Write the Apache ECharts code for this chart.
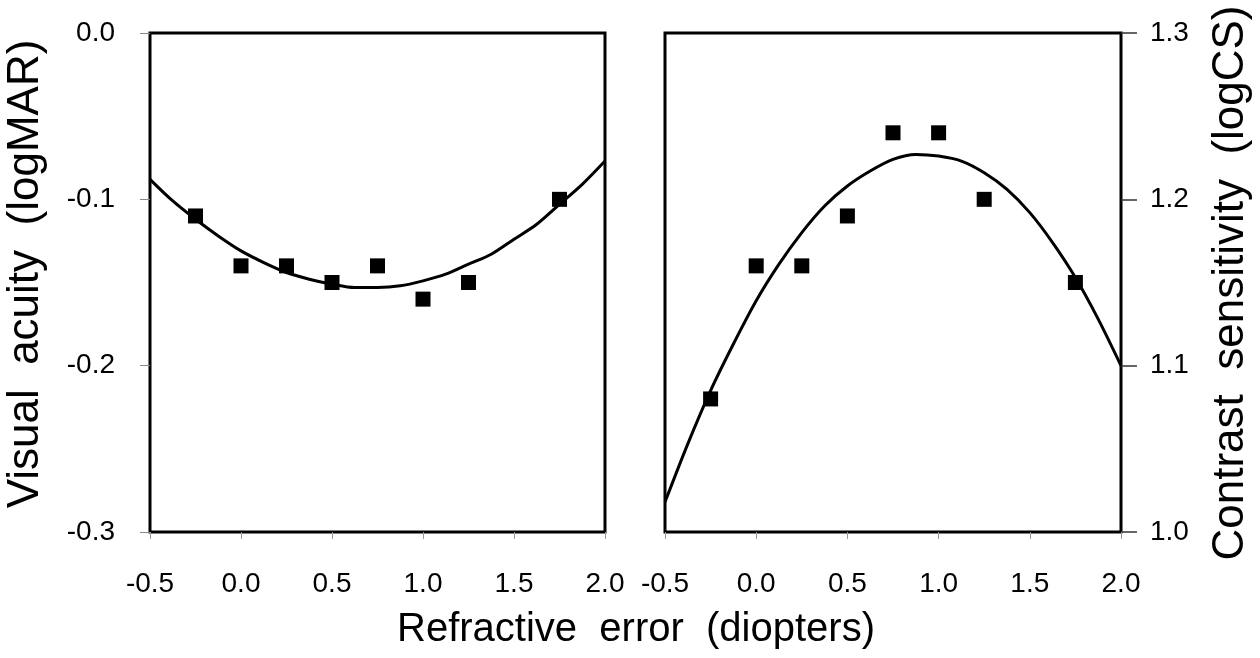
<!DOCTYPE html>
<html>
<head>
<meta charset="utf-8">
<script src="https://cdn.jsdelivr.net/npm/echarts@6/dist/echarts.min.js"></script>
<style>
  html, body { margin: 0; padding: 0; background: #fff; }
  #chart { width: 1260px; height: 658px; }
</style>
</head>
<body>
<div id="chart"></div>
<script>
// measured points (diopters)
const refErr = [-0.25, 0, 0.25, 0.5, 0.75, 1.0, 1.25, 1.75]
const acuity = [-0.11, -0.14, -0.14, -0.15, -0.14, -0.16, -0.15, -0.10]
const contrast = [1.08, 1.16, 1.16, 1.19, 1.24, 1.24, 1.20, 1.15]

// fitted curves, every 0.125 D
const fitX = [-0.5, -0.375, -0.25, -0.125, 0, 0.125, 0.25, 0.375, 0.5, 0.625, 0.75,
  0.875, 1.0, 1.125, 1.25, 1.375, 1.5, 1.625, 1.75, 1.875, 2.0]
const acuityFit = [-0.088, -0.101, -0.112, -0.122, -0.131, -0.138, -0.144, -0.148, -0.151, -0.153, -0.153,
  -0.152, -0.149, -0.145, -0.139, -0.133, -0.124, -0.115, -0.103, -0.091, -0.077]
const contrastFit = [1.018, 1.053, 1.085, 1.113, 1.139, 1.161, 1.180, 1.196, 1.208, 1.217, 1.224,
  1.227, 1.226, 1.223, 1.216, 1.206, 1.192, 1.174, 1.153, 1.128, 1.100]

const xTicks = [-0.5, 0, 0.5, 1.0, 1.5, 2.0]
const acuityTicks = [-0.3, -0.2, -0.1, 0.0]
const contrastTicks = [1.0, 1.1, 1.2, 1.3]

const font = "'Liberation Sans', Arial, sans-serif"
const fmt = v => (Math.abs(v) < 1e-9 ? 0 : v).toFixed(1)
const pairs = (xs, ys) => xs.map((x, i) => [x, ys[i]])

const xAxisBase = {
  type: 'value',
  min: xTicks[0],
  max: xTicks[xTicks.length - 1],
  interval: xTicks[1] - xTicks[0],
  axisLine: { show: false, onZero: false },
  axisTick: { show: true, length: 7, lineStyle: { color: '#999', width: 1 } },
  axisLabel: { color: '#000', fontSize: 28, fontFamily: font, margin: 38, formatter: fmt },
  splitLine: { show: false }
}

const option = {
  animation: false,
  grid: [
    { left: 150, top: 33, width: 455, height: 499, show: true, borderColor: '#000', borderWidth: 3 },
    { left: 665, top: 33, width: 456, height: 499, show: true, borderColor: '#000', borderWidth: 3 }
  ],
  xAxis: [
    Object.assign({ gridIndex: 0 }, xAxisBase),
    Object.assign({ gridIndex: 1 }, xAxisBase)
  ],
  yAxis: [
    {
      gridIndex: 0,
      type: 'value',
      min: acuityTicks[0],
      max: acuityTicks[acuityTicks.length - 1],
      interval: 0.1,
      axisLine: { show: false, onZero: false },
      axisTick: { show: true, length: 10, lineStyle: { color: '#888', width: 1 } },
      axisLabel: { color: '#000', fontSize: 28, fontFamily: font, margin: 35, formatter: fmt },
      splitLine: { show: false }
    },
    {
      gridIndex: 1,
      type: 'value',
      position: 'right',
      min: contrastTicks[0],
      max: contrastTicks[contrastTicks.length - 1],
      interval: 0.1,
      axisLine: { show: false, onZero: false },
      axisTick: { show: true, length: 16, lineStyle: { color: '#333', width: 1.5 } },
      axisLabel: { color: '#000', fontSize: 28, fontFamily: font, margin: 29, formatter: fmt },
      splitLine: { show: false }
    }
  ],
  graphic: [
    {
      type: 'text', x: 26, y: 274, rotation: Math.PI / 2,
      style: { text: 'Visual  acuity  (logMAR)', font: '44px ' + font, fill: '#000', align: 'center', verticalAlign: 'middle' }
    },
    {
      type: 'text', x: 1231, y: 283, rotation: Math.PI / 2,
      style: { text: 'Contrast  sensitivity  (logCS)', font: '44px ' + font, fill: '#000', align: 'center', verticalAlign: 'middle' }
    },
    {
      type: 'text', x: 636, y: 630,
      style: { text: 'Refractive  error  (diopters)', font: '40px ' + font, fill: '#000', align: 'center', verticalAlign: 'middle' }
    }
  ],
  series: [
    {
      type: 'line', xAxisIndex: 0, yAxisIndex: 0,
      data: pairs(fitX, acuityFit),
      smooth: 0.3, symbol: 'none',
      lineStyle: { color: '#000', width: 3 }
    },
    {
      type: 'scatter', xAxisIndex: 0, yAxisIndex: 0,
      data: pairs(refErr, acuity),
      symbol: 'rect', symbolSize: 15,
      itemStyle: { color: '#000', opacity: 1 }
    },
    {
      type: 'line', xAxisIndex: 1, yAxisIndex: 1,
      data: pairs(fitX, contrastFit),
      smooth: 0.3, symbol: 'none',
      lineStyle: { color: '#000', width: 3 }
    },
    {
      type: 'scatter', xAxisIndex: 1, yAxisIndex: 1,
      data: pairs(refErr, contrast),
      symbol: 'rect', symbolSize: 15,
      itemStyle: { color: '#000', opacity: 1 }
    }
  ]
}

const myChart = echarts.init(document.getElementById('chart'))
myChart.setOption(option)
</script>
</body>
</html>
